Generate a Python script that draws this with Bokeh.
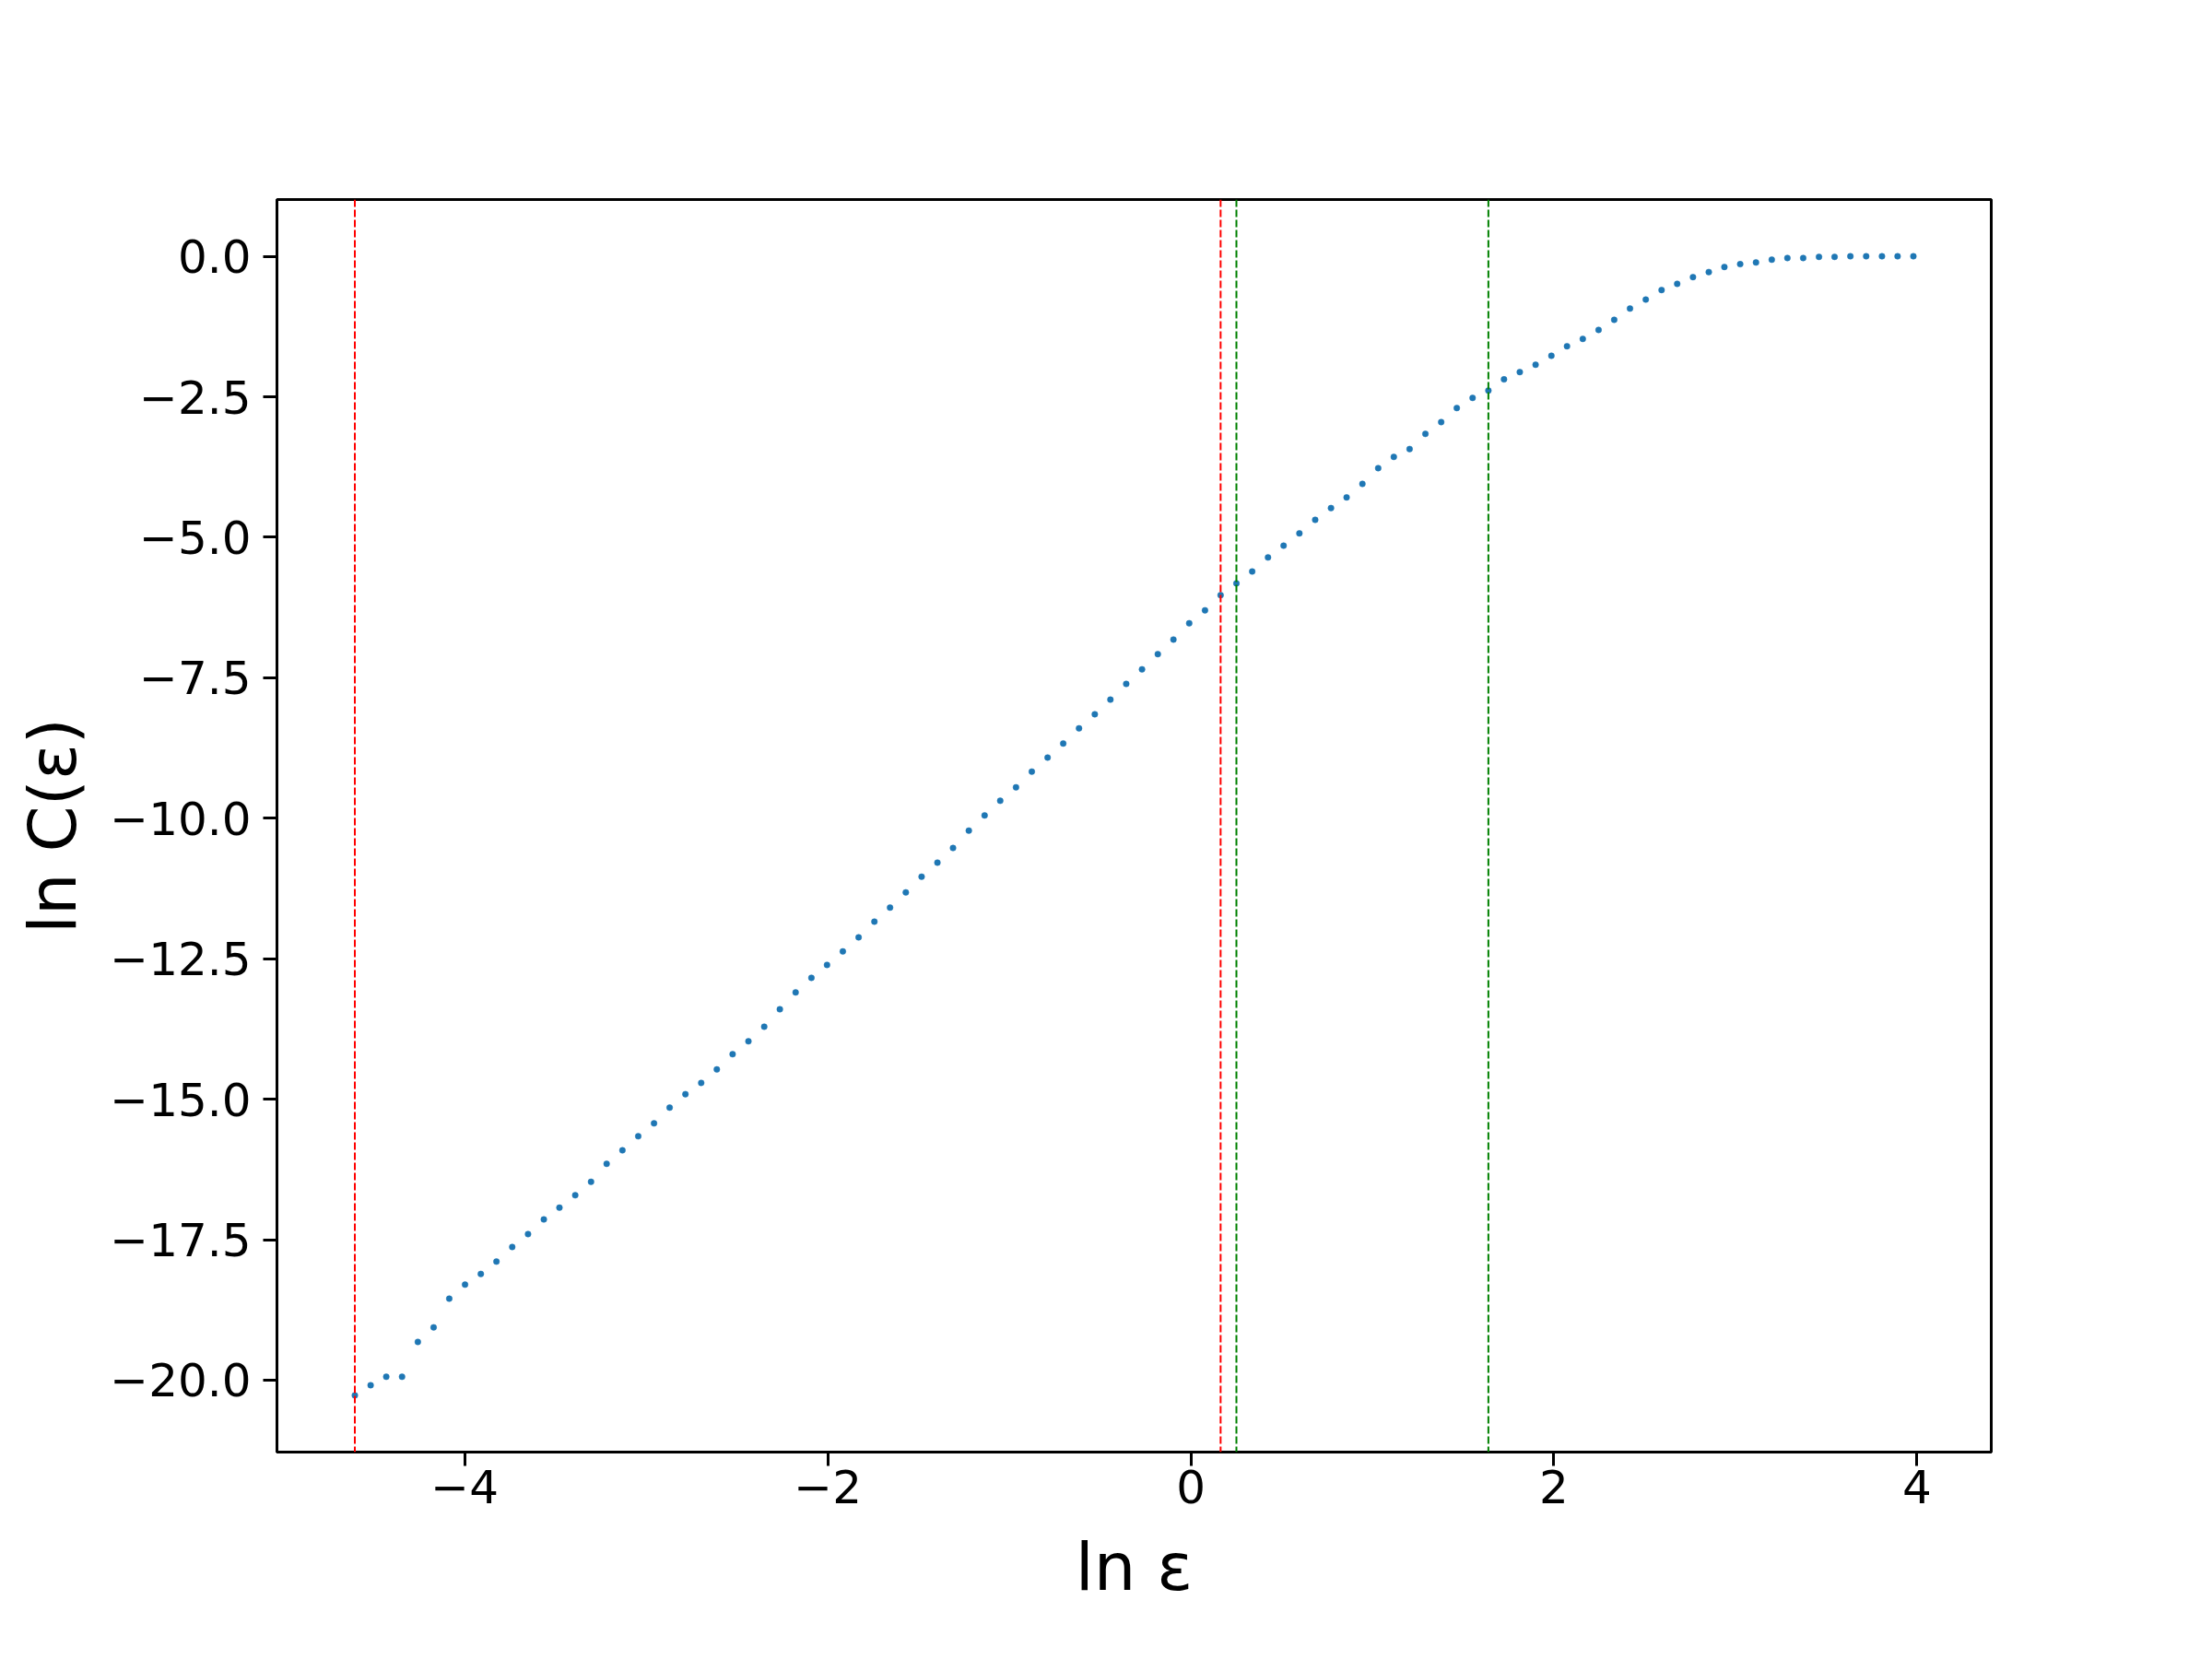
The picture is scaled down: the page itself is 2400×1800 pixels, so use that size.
from bokeh.plotting import figure
from bokeh.models import Range1d, FixedTicker, Span
from bokeh.embed import file_html
from bokeh.resources import INLINE

# ---- data ----
ln_eps = [
    -4.605, -4.518, -4.432, -4.345, -4.258, -4.171, -4.085, -3.998, -3.911, -3.825,
    -3.738, -3.651, -3.564, -3.478, -3.391, -3.304, -3.218, -3.131, -3.044, -2.957,
    -2.871, -2.784, -2.697, -2.611, -2.524, -2.437, -2.350, -2.264, -2.177, -2.090,
    -2.004, -1.917, -1.830, -1.743, -1.657, -1.570, -1.483, -1.396, -1.310, -1.223,
    -1.136, -1.050, -0.963, -0.876, -0.789, -0.703, -0.616, -0.529, -0.443, -0.356,
    -0.269, -0.182, -0.096, -0.009, 0.078, 0.164, 0.251, 0.338, 0.425, 0.511,
    0.598, 0.685, 0.772, 0.858, 0.945, 1.032, 1.118, 1.205, 1.292, 1.379,
    1.465, 1.552, 1.639, 1.725, 1.812, 1.899, 1.986, 2.072, 2.159, 2.246,
    2.332, 2.419, 2.506, 2.593, 2.679, 2.766, 2.853, 2.939, 3.026, 3.113,
    3.200, 3.286, 3.373, 3.460, 3.546, 3.633, 3.720, 3.807, 3.893, 3.980,
]
ln_C = [
    -20.27, -20.09, -19.94, -19.94, -19.32, -19.06, -18.55, -18.30, -18.11, -17.89,
    -17.63, -17.40, -17.14, -16.93, -16.71, -16.47, -16.15, -15.91, -15.66, -15.43,
    -15.15, -14.91, -14.71, -14.47, -14.20, -13.97, -13.71, -13.40, -13.10, -12.84,
    -12.61, -12.37, -12.12, -11.84, -11.59, -11.32, -11.04, -10.79, -10.53, -10.22,
    -9.95, -9.69, -9.45, -9.17, -8.92, -8.67, -8.40, -8.15, -7.89, -7.61,
    -7.35, -7.08, -6.82, -6.53, -6.30, -6.03, -5.82, -5.61, -5.36, -5.15,
    -4.93, -4.69, -4.48, -4.29, -4.05, -3.77, -3.57, -3.43, -3.16, -2.95,
    -2.70, -2.52, -2.39, -2.19, -2.06, -1.93, -1.77, -1.60, -1.47, -1.31,
    -1.13, -0.93, -0.77, -0.60, -0.49, -0.37, -0.28, -0.19, -0.14, -0.11,
    -0.06, -0.03, -0.03, -0.01, -0.01, 0.0, 0.0, 0.0, 0.0, 0.0,
]
red_lines = [-4.605, 0.164]
green_lines = [0.251, 1.639]

x_ticks = [-4, -2, 0, 2, 4]
x_tick_labels = ["\u22124", "\u22122", "0", "2", "4"]
y_ticks = [0.0, -2.5, -5.0, -7.5, -10.0, -12.5, -15.0, -17.5, -20.0]
y_tick_labels = ["0.0", "\u22122.5", "\u22125.0", "\u22127.5", "\u221210.0",
                 "\u221212.5", "\u221215.0", "\u221217.5", "\u221220.0"]

x_label = "ln \u03b5"
y_label = "ln C(\u03b5)"

FONT = "DejaVu Sans"

p = figure(
    width=2384, height=1784,
    min_border_left=300, min_border_right=224,
    min_border_top=216, min_border_bottom=209,
    x_range=Range1d(-5.034, 4.409), y_range=Range1d(-21.28, 1.01),
    output_backend="svg", toolbar_location=None,
)
p.background_fill_color = "white"
p.border_fill_color = "white"
p.outline_line_color = "black"
p.outline_line_width = 3
p.xgrid.visible = False
p.ygrid.visible = False

for ax, ticks, labels, title in (
    (p.xaxis[0], x_ticks, x_tick_labels, x_label),
    (p.yaxis[0], y_ticks, y_tick_labels, y_label),
):
    ax.ticker = FixedTicker(ticks=ticks)
    ax.major_label_overrides = {t: l for t, l in zip(ticks, labels)}
    ax.axis_label = title
    ax.axis_label_text_font = FONT
    ax.axis_label_text_font_style = "normal"
    ax.axis_label_text_font_size = "72px"
    ax.axis_label_text_color = "black"
    ax.major_label_text_font = FONT
    ax.major_label_text_font_size = "50px"
    ax.major_label_text_color = "black"
    ax.axis_line_color = "black"
    ax.axis_line_width = 3
    ax.major_tick_line_color = "black"
    ax.major_tick_line_width = 3
    ax.major_tick_in = 0
    ax.major_tick_out = 15
    ax.minor_tick_line_color = None

p.xaxis[0].major_label_standoff = 4
p.xaxis[0].axis_label_standoff = 24
p.yaxis[0].major_label_standoff = 13
p.yaxis[0].axis_label_standoff = 17

for loc in red_lines:
    p.add_layout(Span(location=loc, dimension="height", line_color="red",
                      line_width=2, line_dash="8 3"))
for loc in green_lines:
    p.add_layout(Span(location=loc, dimension="height", line_color="green",
                      line_width=2, line_dash="8 3"))

p.scatter(ln_eps, ln_C, size=6.5, marker="circle",
          fill_color="#1f77b4", line_color="#1f77b4", line_width=0.5)

open("out.html", "w").write(file_html(p, INLINE))
